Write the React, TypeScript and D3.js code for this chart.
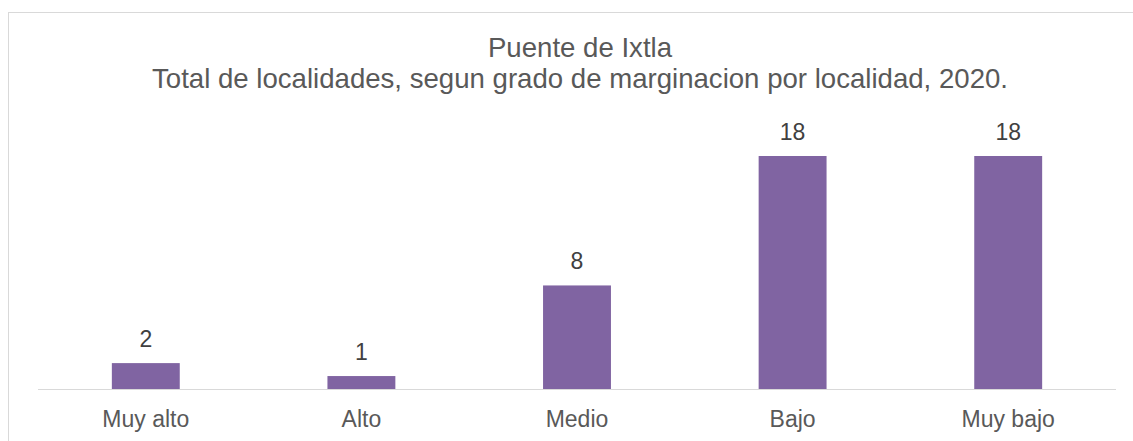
import React from "react";
import * as d3 from "d3";

const categories = ["Muy alto", "Alto", "Medio", "Bajo", "Muy bajo"];
const values = [2, 1, 8, 18, 18];
const titleLines = ["Puente de Ixtla", "Total de localidades, segun grado de marginacion por localidad, 2020."];

export default function App() {
  const W = 1133, H = 441;
  const x = d3.scaleBand<string>().domain(categories).range([38, 1116]).paddingInner(0.685).paddingOuter(0.3425);
  const y = d3.scaleLinear().domain([0, 18]).range([389, 156]);
  const font = "Arial, 'Liberation Sans', sans-serif";
  return (
    <svg width={W} height={H} style={{ position: "absolute", left: 0, top: 0 }}>
      <rect x={8.5} y={12.5} width={1140} height={440} fill="#fff" stroke="#d9d9d9" strokeWidth={1} />
      {titleLines.map((t, i) => (
        <text key={i} x={580} y={i === 0 ? 57 : 88} textAnchor="middle" fontFamily={font} fontSize={27.6} fill="#595959">
          {t}
        </text>
      ))}
      {categories.map((c, i) => (
        <g key={c}>
          <rect x={x(c)} y={y(values[i])} width={x.bandwidth()} height={y(0) - y(values[i])} fill="#8064a2" />
          <text x={(x(c) as number) + x.bandwidth() / 2} y={y(values[i]) - 16.5} textAnchor="middle" fontFamily={font} fontSize={23} fill="#404040">
            {values[i]}
          </text>
          <text x={(x(c) as number) + x.bandwidth() / 2} y={427} textAnchor="middle" fontFamily={font} fontSize={23} fill="#595959">
            {c}
          </text>
        </g>
      ))}
      <line x1={38} x2={1116} y1={389.5} y2={389.5} stroke="#d9d9d9" strokeWidth={1} />
    </svg>
  );
}
